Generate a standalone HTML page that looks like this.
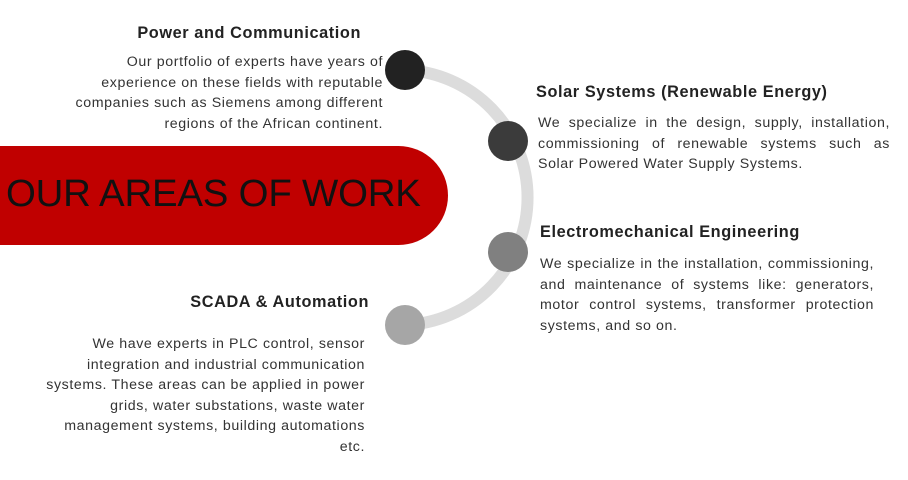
<!DOCTYPE html>
<html><head><meta charset="utf-8"><style>
body{margin:0;width:908px;height:480px;background:#fff;position:relative;overflow:hidden;font-family:"Liberation Sans","DejaVu Sans",sans-serif;color:#333}
.h{position:absolute;font-weight:bold;font-size:16.3px;letter-spacing:0.6px;color:#222;white-space:nowrap}
.b{position:absolute;font-size:14.2px;line-height:20.6px;color:#333;letter-spacing:0.6px;white-space:nowrap}
.r{text-align:right}
.j div{text-align:justify;text-align-last:justify}
.j div:last-child{text-align-last:left}
</style></head><body>
<svg width="908" height="480" style="position:absolute;left:0;top:0">
<path d="M405,70 A127.6,127.6 0 0 1 405,325" fill="none" stroke="#dcdcdc" stroke-width="12"/>
<rect x="-60" y="146" width="508" height="99" rx="49.5" fill="#c00000"/>
<circle cx="405" cy="70" r="20" fill="#222"/>
<circle cx="508" cy="141" r="20" fill="#3b3b3b"/>
<circle cx="508" cy="252" r="20" fill="#808080"/>
<circle cx="405" cy="325" r="20" fill="#a6a6a6"/>
</svg>
<div style="position:absolute;left:6px;top:170px;font-size:38.4px;color:#111;white-space:nowrap;line-height:48px;letter-spacing:-0.2px">OUR AREAS OF WORK</div>

<div class="h" style="right:547px;top:24px">Power and Communication</div>
<div class="b r" style="right:525px;top:52px">Our portfolio of experts have years of<br>experience on these fields with reputable<br>companies such as Siemens among different<br>regions of the African continent.</div>

<div class="h" style="left:536px;top:83px">Solar Systems (Renewable Energy)</div>
<div class="b j" style="left:538px;top:113px;width:352px"><div>We specialize in the design, supply, installation,</div><div>commissioning of renewable systems such as</div><div>Solar Powered Water Supply Systems.</div></div>

<div class="h" style="left:540px;top:223px">Electromechanical Engineering</div>
<div class="b j" style="left:540px;top:254px;width:334px"><div>We specialize in the installation, commissioning,</div><div>and maintenance of systems like: generators,</div><div>motor control systems, transformer protection</div><div>systems, and so on.</div></div>

<div class="h" style="right:539px;top:293px">SCADA &amp; Automation</div>
<div class="b r" style="right:543px;top:334px">We have experts in PLC control, sensor<br>integration and industrial communication<br>systems. These areas can be applied in power<br>grids, water substations, waste water<br>management systems, building automations<br>etc.</div>
</body></html>
